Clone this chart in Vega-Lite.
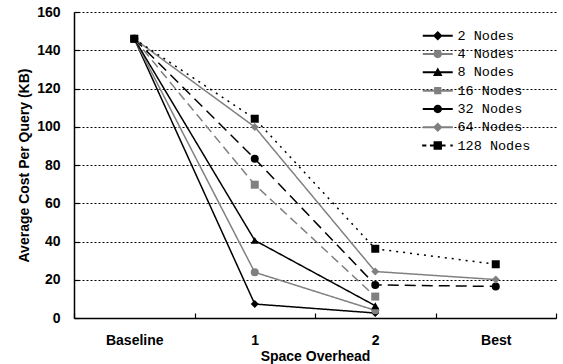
{
  "$schema": "https://vega.github.io/schema/vega-lite/v6.json",
  "width": 482,
  "height": 306,
  "autosize": {"type": "none"},
  "padding": {"left": 74, "top": 12, "right": 7, "bottom": 46},
  "background": "white",
  "config": {
    "view": {"stroke": null},
    "axis": {"labelFont": "Liberation Sans", "labelFontWeight": "bold", "labelFontSize": 14, "labelColor": "black",
             "titleFont": "Liberation Sans", "titleFontWeight": "bold", "titleFontSize": 14, "titleColor": "black",
             "domainColor": "black", "domainWidth": 1.5, "tickColor": "black", "tickWidth": 1.2}
  },
  "data": {"values": [
    {"x": "Baseline", "series": "2 Nodes", "v": 146},
    {"x": "1", "series": "2 Nodes", "v": 7.3},
    {"x": "2", "series": "2 Nodes", "v": 2.6},
    {"x": "Baseline", "series": "4 Nodes", "v": 146},
    {"x": "1", "series": "4 Nodes", "v": 23.9},
    {"x": "2", "series": "4 Nodes", "v": 4.0},
    {"x": "Baseline", "series": "8 Nodes", "v": 146},
    {"x": "1", "series": "8 Nodes", "v": 40.6},
    {"x": "2", "series": "8 Nodes", "v": 6.4},
    {"x": "Baseline", "series": "16 Nodes", "v": 146},
    {"x": "1", "series": "16 Nodes", "v": 69.7},
    {"x": "2", "series": "16 Nodes", "v": 11.2},
    {"x": "Baseline", "series": "32 Nodes", "v": 146},
    {"x": "1", "series": "32 Nodes", "v": 83.3},
    {"x": "2", "series": "32 Nodes", "v": 17.3},
    {"x": "Best", "series": "32 Nodes", "v": 16.5},
    {"x": "Baseline", "series": "64 Nodes", "v": 146},
    {"x": "1", "series": "64 Nodes", "v": 99.9},
    {"x": "2", "series": "64 Nodes", "v": 24.3},
    {"x": "Best", "series": "64 Nodes", "v": 20.1},
    {"x": "Baseline", "series": "128 Nodes", "v": 146},
    {"x": "1", "series": "128 Nodes", "v": 104.2},
    {"x": "2", "series": "128 Nodes", "v": 36.2},
    {"x": "Best", "series": "128 Nodes", "v": 28.1}
  ]},
  "encoding": {
    "x": {"field": "x", "type": "nominal", "sort": ["Baseline", "1", "2", "Best"],
          "scale": {"type": "band", "domain": ["Baseline", "1", "2", "Best"], "paddingInner": 0, "paddingOuter": 0},
          "axis": {"title": "Space Overhead", "labelAngle": 0, "tickBand": "extent", "tickSize": -5, "labelPadding": 20, "titlePadding": 2, "grid": false}},
    "y": {"field": "v", "type": "quantitative",
          "scale": {"domain": [0, 160], "nice": false, "zero": true},
          "axis": {"title": "Average Cost Per Query (KB)", "values": [0, 20, 40, 60, 80, 100, 120, 140, 160], "tickSize": -5, "labelPadding": 19, "titlePadding": 5,
                   "grid": true, "gridColor": "black", "gridDash": [2, 2], "gridWidth": 1, "gridOpacity": 1}}
  },
  "resolve": {"scale": {"color": "independent", "shape": "independent"}},
  "layer": [
    {
      "mark": {"type": "line", "strokeWidth": 1.5},
      "encoding": {
        "color": {"field": "series", "type": "nominal", "legend": null,
                  "scale": {"domain": ["2 Nodes", "4 Nodes", "8 Nodes", "16 Nodes", "32 Nodes", "64 Nodes", "128 Nodes"],
                            "range": ["black", "#808080", "black", "#808080", "black", "#808080", "black"]}},
        "strokeDash": {"field": "series", "type": "nominal", "legend": null,
                  "scale": {"domain": ["2 Nodes", "4 Nodes", "8 Nodes", "16 Nodes", "32 Nodes", "64 Nodes", "128 Nodes"],
                            "range": [[1, 0], [1, 0], [1, 0], [9, 5], [11, 6], [1, 0], [2, 5]]}}
      }
    },
    {
      "mark": {"type": "point", "filled": true, "opacity": 1, "size": 64},
      "encoding": {
        "color": {"field": "series", "type": "nominal", "legend": null,
                  "scale": {"domain": ["2 Nodes", "4 Nodes", "8 Nodes", "16 Nodes", "32 Nodes", "64 Nodes", "128 Nodes"],
                            "range": ["black", "#808080", "black", "#808080", "black", "#808080", "black"]}},
        "shape": {"field": "series", "type": "nominal", "legend": null,
                  "scale": {"domain": ["2 Nodes", "4 Nodes", "8 Nodes", "16 Nodes", "32 Nodes", "64 Nodes", "128 Nodes"],
                            "range": ["diamond", "circle", "triangle-up", "square", "circle", "diamond", "square"]}}
      }
    },
    {
      "transform": [{"filter": "datum.series == 'none'"}],
      "mark": {"type": "point", "filled": true, "opacity": 1},
      "encoding": {
        "color": {"field": "series", "type": "nominal",
                  "scale": {"domain": ["2 Nodes", "4 Nodes", "8 Nodes", "16 Nodes", "32 Nodes", "64 Nodes", "128 Nodes"],
                            "range": ["black", "#808080", "black", "#808080", "black", "#808080", "black"]},
                  "legend": {"title": null, "orient": "none", "legendX": 357, "legendY": 17, "padding": 0,
                             "symbolSize": 144, "symbolStrokeWidth": 0, "labelOffset": 13, "rowPadding": 3.3,
                             "labelFont": "Liberation Mono", "labelFontSize": 13.5, "labelColor": "black", "labelBaseline": "middle"}},
        "shape": {"field": "series", "type": "nominal",
                  "scale": {"domain": ["2 Nodes", "4 Nodes", "8 Nodes", "16 Nodes", "32 Nodes", "64 Nodes", "128 Nodes"],
                            "range": [
                              "M-2.5,-0.17H2.5V0.17H-2.5Z M0,-0.8L0.8,0L0,0.8L-0.8,0Z",
                              "M-2.5,-0.17H2.5V0.17H-2.5Z M-0.7,0A0.7,0.7 0 1,1 0.7,0A0.7,0.7 0 1,1 -0.7,0Z",
                              "M-2.5,-0.17H2.5V0.17H-2.5Z M0,-0.8L0.8,0.6L-0.8,0.6Z",
                              "M-2.5,-0.17H2.5V0.17H-2.5Z M-0.6,-0.6H0.6V0.6H-0.6Z",
                              "M-2.5,-0.17H2.5V0.17H-2.5Z M-0.7,0A0.7,0.7 0 1,1 0.7,0A0.7,0.7 0 1,1 -0.7,0Z",
                              "M-2.5,-0.17H2.5V0.17H-2.5Z M0,-0.8L0.8,0L0,0.8L-0.8,0Z",
                              "M-2.6,-0.17H-1.9V0.17H-2.6Z M-1.3,-0.17H1.3V0.17H-1.3Z M-0.7,-0.7H0.7V0.7H-0.7Z M2.1,-0.17H2.5V0.17H2.1Z"
                            ]}}
      }
    }
  ]
}
